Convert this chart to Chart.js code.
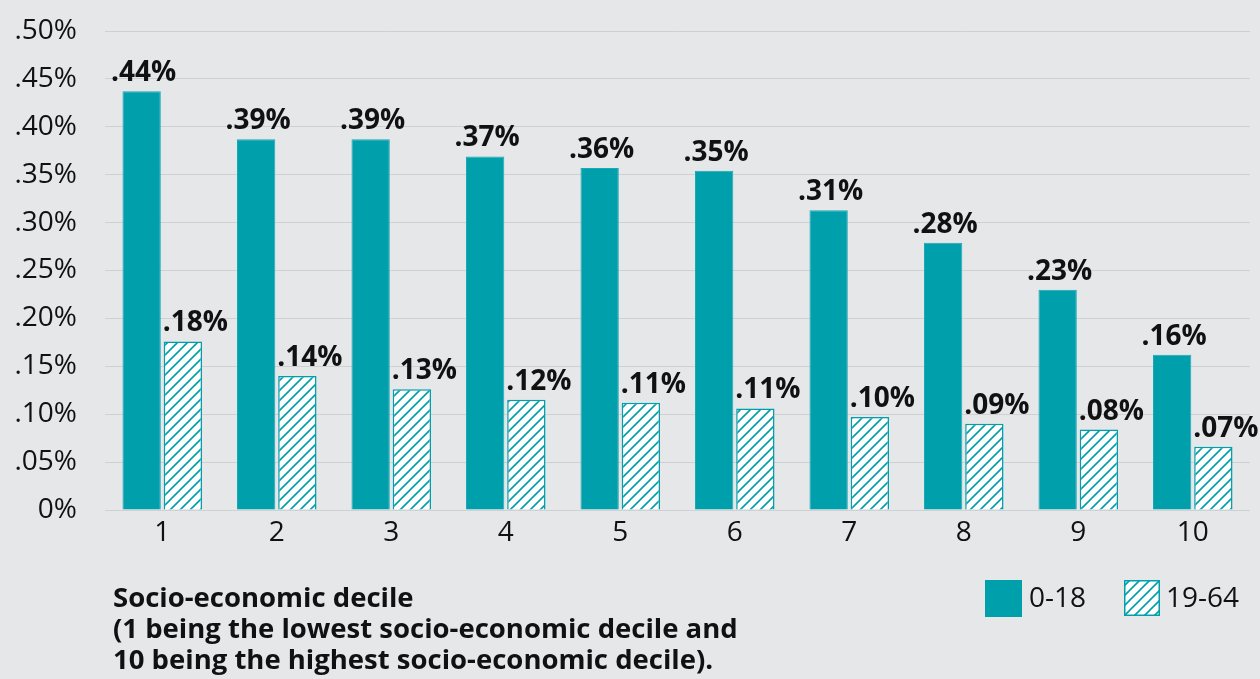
<!DOCTYPE html>
<html>
<head>
<meta charset="utf-8">
<script src="https://cdn.jsdelivr.net/npm/chart.js@4/dist/chart.umd.min.js"></script>
<style>
  html, body { margin: 0; padding: 0; background: #e6e7e9; }
  #wrap { width: 1260px; height: 679px; }
</style>
</head>
<body>
<div id="wrap"><canvas id="c" width="1260" height="679"></canvas></div>
<script>
const categories = ['1', '2', '3', '4', '5', '6', '7', '8', '9', '10'];
const seriesNames = ['0-18', '19-64'];
const values0to18 = [0.437, 0.387, 0.387, 0.369, 0.357, 0.354, 0.313, 0.279, 0.230, 0.162];
const values19to64 = [0.176, 0.140, 0.126, 0.115, 0.112, 0.106, 0.097, 0.090, 0.084, 0.066];
const yTickLabels = ['0%', '.05%', '.10%', '.15%', '.20%', '.25%', '.30%', '.35%', '.40%', '.45%', '.50%'];
const axisTitleLines = [
  'Socio-economic decile',
  '(1 being the lowest socio-economic decile and',
  '10 being the highest socio-economic decile).'
];

const TEAL = '#009fac';
const FONT = '"Open Sans", "Noto Sans", sans-serif';

function makeHatch() {
  const s = 10;
  const p = document.createElement('canvas');
  p.width = s; p.height = s;
  const g = p.getContext('2d');
  g.fillStyle = '#ffffff';
  g.fillRect(0, 0, s, s);
  g.strokeStyle = TEAL;
  g.lineWidth = 1.6;
  g.beginPath();
  g.moveTo(-2, s + 2); g.lineTo(s + 2, -2);
  g.moveTo(-2, 2); g.lineTo(2, -2);
  g.moveTo(s - 2, s + 2); g.lineTo(s + 2, s - 2);
  g.stroke();
  return g.createPattern(p, 'repeat');
}
const hatch = makeHatch();

function fmt(v) {
  return v.toFixed(2).replace(/^0/, '') + '%';
}

const bgPlugin = {
  id: 'bg',
  beforeDraw(chart) {
    const ctx = chart.ctx;
    ctx.save();
    ctx.fillStyle = '#e6e7e9';
    ctx.fillRect(0, 0, chart.width, chart.height);
    ctx.restore();
  }
};

const labelPlugin = {
  id: 'barLabels',
  afterDatasetsDraw(chart) {
    const ctx = chart.ctx;
    ctx.save();
    ctx.font = 'bold 28px ' + FONT;
    ctx.fillStyle = '#111111';
    ctx.textBaseline = 'alphabetic';
    chart.data.datasets.forEach((ds, di) => {
      const meta = chart.getDatasetMeta(di);
      meta.data.forEach((el, i) => {
        const txt = fmt(ds.data[i]);
        if (di === 0) {
          ctx.textAlign = 'center';
          ctx.fillText(txt, el.x + 2, el.y - 10);
        } else {
          ctx.textAlign = 'left';
          ctx.fillText(txt, el.x - el.width / 2 - 1, el.y - 10);
        }
      });
    });
    ctx.restore();
  }
};

const footerPlugin = {
  id: 'footer',
  afterDraw(chart) {
    const ctx = chart.ctx;
    ctx.save();
    // axis title
    ctx.font = 'bold 27.5px ' + FONT;
    ctx.fillStyle = '#111111';
    ctx.textAlign = 'left';
    ctx.textBaseline = 'alphabetic';
    axisTitleLines.forEach((line, i) => {
      ctx.fillText(line, 113, 607 + i * 31);
    });
    // legend
    ctx.font = '28px ' + FONT;
    ctx.textBaseline = 'middle';
    ctx.fillStyle = TEAL;
    ctx.fillRect(985, 580, 37, 37);
    ctx.fillStyle = '#111111';
    ctx.fillText(seriesNames[0], 1029, 599);
    ctx.fillStyle = hatch;
    ctx.fillRect(1124, 580, 36, 36);
    ctx.strokeStyle = TEAL;
    ctx.lineWidth = 1.5;
    ctx.strokeRect(1124.75, 580.75, 34.5, 34.5);
    ctx.fillStyle = '#111111';
    ctx.fillText(seriesNames[1], 1166, 599);
    ctx.restore();
  }
};

new Chart(document.getElementById('c'), {
  type: 'bar',
  data: {
    labels: categories,
    datasets: [
      {
        label: seriesNames[0],
        data: values0to18,
        backgroundColor: TEAL,
        borderColor: '#1aa9b5',
        borderWidth: 1,
        categoryPercentage: 0.72,
        barPercentage: 0.93
      },
      {
        label: seriesNames[1],
        data: values19to64,
        backgroundColor: hatch,
        borderColor: TEAL,
        borderWidth: 1.5,
        categoryPercentage: 0.72,
        barPercentage: 0.93
      }
    ]
  },
  options: {
    responsive: false,
    devicePixelRatio: 1,
    animation: false,
    layout: { padding: { top: 31, right: 10, left: 0, bottom: 0 } },
    plugins: {
      legend: { display: false },
      tooltip: { enabled: false },
      title: { display: false }
    },
    scales: {
      x: {
        grid: { display: false, drawTicks: false },
        border: { display: false },
        ticks: {
          font: { family: FONT, size: 28 },
          color: '#111111',
          padding: 6,
          maxRotation: 0
        },
        afterFit(scale) { scale.height = 169; }
      },
      y: {
        min: 0,
        max: 0.5,
        grid: { color: '#cfd0d3', lineWidth: 1, drawTicks: false },
        border: { display: false },
        ticks: {
          stepSize: 0.05,
          font: { family: FONT, size: 28 },
          color: '#111111',
          padding: 28,
          callback: (v, i) => yTickLabels[i]
        },
        afterFit(scale) {
          scale.width = 105;
          scale.paddingTop = 0;
          scale.paddingBottom = 0;
        }
      }
    }
  },
  plugins: [bgPlugin, labelPlugin, footerPlugin]
});
</script>
</body>
</html>
